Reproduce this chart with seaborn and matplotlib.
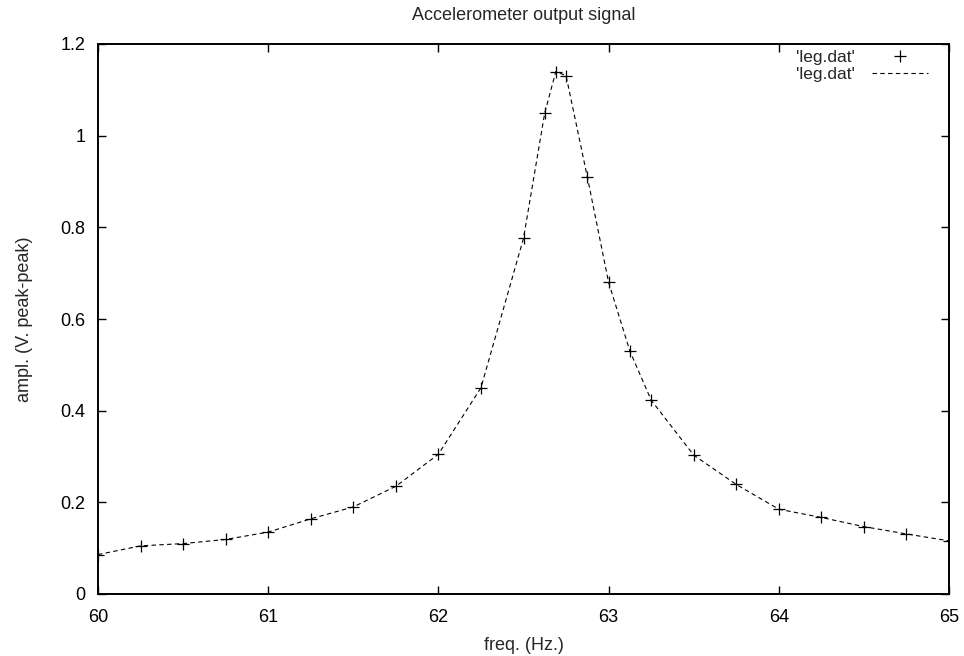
import matplotlib
matplotlib.use("Agg")
import matplotlib.pyplot as plt
import seaborn as sns
import pandas as pd
from matplotlib.lines import Line2D

freq = [60.0, 60.25, 60.5, 60.75, 61.0, 61.25, 61.5, 61.75, 62.0, 62.25,
        62.5, 62.625, 62.69, 62.75, 62.875, 63.0, 63.125, 63.25, 63.5, 63.75,
        64.0, 64.25, 64.5, 64.75, 65.0]
ampl = [0.086, 0.105, 0.110, 0.119, 0.135, 0.164, 0.190, 0.235, 0.305, 0.450,
        0.776, 1.050, 1.140, 1.131, 0.910, 0.680, 0.530, 0.423, 0.303, 0.239,
        0.185, 0.167, 0.147, 0.131, 0.116]
xticks = [60, 61, 62, 63, 64, 65]
xticklabels = ['60', '61', '62', '63', '64', '65']
yticks = [0, 0.2, 0.4, 0.6, 0.8, 1.0, 1.2]
yticklabels = ['0', '0.2', '0.4', '0.6', '0.8', '1', '1.2']
series_label = "'leg.dat'"

df = pd.DataFrame({'freq': freq, 'ampl': ampl})

sns.set_style('ticks')
plt.rcParams['font.family'] = ['Liberation Sans', 'DejaVu Sans']

fs = 13
fig = plt.figure(figsize=(9.64, 6.56), dpi=100)
ax = fig.add_axes([98 / 964, 1 - 594 / 656, (949 - 98) / 964, (594 - 44) / 656])

sns.lineplot(data=df, x='freq', y='ampl', ax=ax, color='black', linewidth=0.8,
             linestyle=(0, (4, 3)), sort=True, estimator=None, legend=False)
sns.scatterplot(data=df, x='freq', y='ampl', ax=ax, marker='+', s=70,
                color='black', linewidth=0.9, legend=False, zorder=3)

ax.set_xlim(60, 65)
ax.set_ylim(0, 1.2)
ax.set_xticks(xticks)
ax.set_xticklabels(xticklabels)
ax.set_yticks(yticks)
ax.set_yticklabels(yticklabels)
ax.tick_params(axis='both', which='major', direction='in', length=6, width=1,
               top=True, right=True, labelsize=fs, color='black', labelcolor='black')
ax.tick_params(axis='x', pad=11)
ax.tick_params(axis='y', pad=9)
for sp in ax.spines.values():
    sp.set_visible(True)
    sp.set_linewidth(1.4)
    sp.set_color('black')

ax.set_xlabel('freq. (Hz.)', fontsize=fs, labelpad=8)
ax.set_ylabel('ampl. (V. peak-peak)', fontsize=fs, labelpad=20)
ax.set_title('Accelerometer output signal', fontsize=fs, pad=17)

h1 = Line2D([], [], color='black', marker='+', linestyle='none', markersize=9, markeredgewidth=0.9)
h2 = Line2D([], [], color='black', linestyle=(0, (4, 3)), linewidth=0.8)
ax.legend([h1, h2], [series_label, series_label], loc='upper right',
          bbox_to_anchor=(928 / 964, 1 - 50 / 656), bbox_transform=fig.transFigure,
          frameon=False, markerfirst=False, fontsize=12.5, handlelength=3.2,
          handletextpad=1.0, labelspacing=0.1, borderpad=0, borderaxespad=0)

fig.savefig('out.png', dpi=100)
